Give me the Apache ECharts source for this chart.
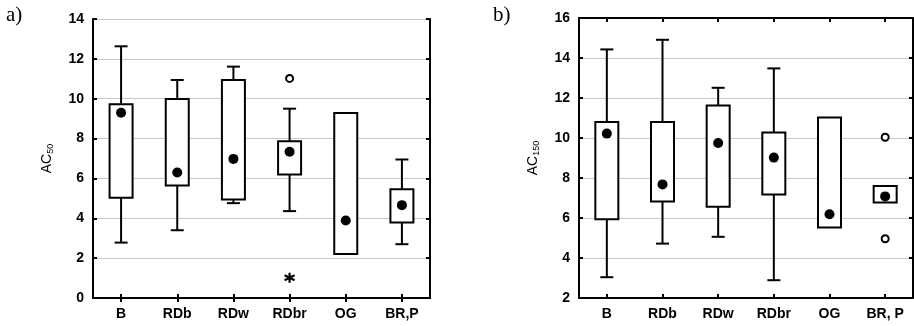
<!DOCTYPE html>
<html>
<head>
<meta charset="utf-8">
<script src="https://cdn.jsdelivr.net/npm/echarts@6/dist/echarts.min.js"></script>
<style>html,body{margin:0;padding:0;background:#fff}#c{width:914px;height:326px}</style>
</head>
<body>
<div id="c"></div>
<script>
// ---- data ----
const categoriesA = ['B', 'RDb', 'RDw', 'RDbr', 'OG', 'BR,P'];
const categoriesB = ['B', 'RDb', 'RDw', 'RDbr', 'OG', 'BR, P'];

const ac50Min    = [2.78, 3.40, 4.76, 4.36, 2.21, 2.70];
const ac50Q1     = [5.03, 5.65, 4.94, 6.20, 2.21, 3.79];
const ac50Q3     = [9.72, 9.98, 10.94, 7.86, 9.28, 5.46];
const ac50Max    = [12.63, 10.94, 11.61, 9.50, 9.28, 6.95];
const ac50Median = [9.30, 6.30, 6.98, 7.34, 3.89, 4.66];
const ac50Outliers = [['RDbr', 11.02]];
const ac50Extremes = [['RDbr', 1.02]];

const ac150Min    = [3.04, 4.72, 5.06, 2.89, 5.52, 6.78];
const ac150Q1     = [5.94, 6.83, 6.56, 7.18, 5.52, 6.78];
const ac150Q3     = [10.80, 10.80, 11.62, 10.27, 11.02, 7.60];
const ac150Max    = [14.43, 14.91, 12.51, 13.48, 11.02, 7.60];
const ac150Median = [10.22, 7.68, 9.75, 9.02, 6.19, 7.08];
const ac150Outliers = [['BR, P', 10.04], ['BR, P', 4.96]];

const yTicksA = [0, 14, 2];
const yTicksB = [2, 16, 2];

// ---- chart ----
const chart = echarts.init(document.getElementById('c'));
const FONT = '"Liberation Sans", Arial, sans-serif';
const LW = 2;

function boxData(mn, q1, q3, mx) {
  return mn.map((v, i) => [i, v, q1[i], q3[i], mx[i]]);
}

function renderBox(params, api) {
  const i = api.value(0);
  const pMin = api.coord([i, api.value(1)]);
  const pQ1 = api.coord([i, api.value(2)]);
  const pQ3 = api.coord([i, api.value(3)]);
  const pMax = api.coord([i, api.value(4)]);
  const bw = 23, cw = 13;
  const x = pQ1[0];
  const st = { stroke: '#000', lineWidth: LW, fill: null };
  const children = [];
  if (api.value(4) > api.value(3)) {
    children.push({ type: 'line', shape: { x1: x, y1: pMax[1], x2: x, y2: pQ3[1] }, style: st });
    children.push({ type: 'line', shape: { x1: x - cw / 2, y1: pMax[1], x2: x + cw / 2, y2: pMax[1] }, style: st });
  }
  if (api.value(1) < api.value(2)) {
    children.push({ type: 'line', shape: { x1: x, y1: pQ1[1], x2: x, y2: pMin[1] }, style: st });
    children.push({ type: 'line', shape: { x1: x - cw / 2, y1: pMin[1], x2: x + cw / 2, y2: pMin[1] }, style: st });
  }
  children.push({ type: 'rect', shape: { x: x - bw / 2, y: pQ3[1], width: bw, height: pQ1[1] - pQ3[1] },
    style: { stroke: '#000', lineWidth: LW, fill: '#fff' } });
  return { type: 'group', children };
}

function xAxes(cats, gi) {
  return [
    { type: 'category', gridIndex: gi, data: cats, position: 'bottom',
      axisLine: { show: true, lineStyle: { color: '#000', width: LW } },
      axisTick: { show: true, inside: true, alignWithLabel: true, length: 4, lineStyle: { color: '#000', width: LW } },
      axisLabel: { color: '#000', fontFamily: FONT, fontWeight: 'bold', fontSize: 14, margin: 9, interval: 0 },
      splitLine: { show: false } },
    { type: 'category', gridIndex: gi, data: cats, position: 'top',
      axisLine: { show: true, lineStyle: { color: '#000', width: LW } },
      axisTick: { show: true, inside: true, alignWithLabel: true, length: 4, lineStyle: { color: '#000', width: LW } },
      axisLabel: { show: false }, splitLine: { show: false } }
  ];
}

function yAxes(t, gi, sub) {
  return [
    { type: 'value', gridIndex: gi, min: t[0], max: t[1], interval: t[2], position: 'left',
      name: '{a|AC}{s|' + sub + '}', nameLocation: 'middle', nameGap: 38, nameRotate: 90,
      nameTextStyle: { rich: {
        a: { fontFamily: FONT, fontSize: 14, color: '#000' },
        s: { fontFamily: FONT, fontSize: 9, color: '#000', padding: [6, 0, 0, 0] }
      } },
      axisLine: { show: true, lineStyle: { color: '#000', width: LW } },
      axisTick: { show: true, inside: true, length: 4, lineStyle: { color: '#000', width: LW } },
      axisLabel: { color: '#000', fontFamily: FONT, fontWeight: 'bold', fontSize: 14, margin: 9 },
      splitLine: { show: true, lineStyle: { color: '#c8c8c8', width: 1 } } },
    { type: 'value', gridIndex: gi, min: t[0], max: t[1], interval: t[2], position: 'right',
      axisLine: { show: true, lineStyle: { color: '#000', width: LW } },
      axisTick: { show: true, inside: true, length: 4, lineStyle: { color: '#000', width: LW } },
      axisLabel: { show: false }, splitLine: { show: false } }
  ];
}

const asteriskPath = 'path://M5,0L5,10M0.67,2.5L9.33,7.5M0.67,7.5L9.33,2.5';

function seriesFor(gi, mn, q1, q3, mx, med, outl, ext) {
  const xi = gi * 2, yi = gi * 2;
  const s = [
    { type: 'custom', xAxisIndex: xi, yAxisIndex: yi, renderItem: renderBox,
      encode: { x: 0, y: [1, 2, 3, 4] }, data: boxData(mn, q1, q3, mx), z: 2, silent: true },
    { type: 'scatter', xAxisIndex: xi, yAxisIndex: yi, symbol: 'circle', symbolSize: 10,
      itemStyle: { color: '#000', opacity: 1 }, data: med.map((v, i) => [i, v]), z: 3, silent: true },
    { type: 'scatter', xAxisIndex: xi, yAxisIndex: yi, symbol: 'circle', symbolSize: 7,
      itemStyle: { color: '#fff', borderColor: '#000', borderWidth: 2, opacity: 1 }, data: outl, z: 3, silent: true }
  ];
  if (ext) {
    s.push({ type: 'scatter', xAxisIndex: xi, yAxisIndex: yi, symbol: asteriskPath, symbolSize: 10,
      itemStyle: { color: 'none', borderColor: '#000', borderWidth: 2.2, opacity: 1 }, data: ext, z: 3, silent: true });
  }
  return s;
}

chart.setOption({
  animation: false,
  backgroundColor: '#fff',
  grid: [
    { left: 93, right: 484, top: 19, bottom: 28 },
    { left: 579, right: 1, top: 18, bottom: 28 }
  ],
  xAxis: [...xAxes(categoriesA, 0), ...xAxes(categoriesB, 1)],
  yAxis: [...yAxes(yTicksA, 0, '50'), ...yAxes(yTicksB, 1, '150')],
  graphic: [
    { type: 'text', left: 6, top: 5, style: { text: 'a)', font: '21px "Liberation Serif", "Times New Roman", serif', fill: '#000' } },
    { type: 'text', left: 493, top: 5, style: { text: 'b)', font: '21px "Liberation Serif", "Times New Roman", serif', fill: '#000' } }
  ],
  series: [
    ...seriesFor(0, ac50Min, ac50Q1, ac50Q3, ac50Max, ac50Median, ac50Outliers, ac50Extremes),
    ...seriesFor(1, ac150Min, ac150Q1, ac150Q3, ac150Max, ac150Median, ac150Outliers, null)
  ]
});
</script>
</body>
</html>
